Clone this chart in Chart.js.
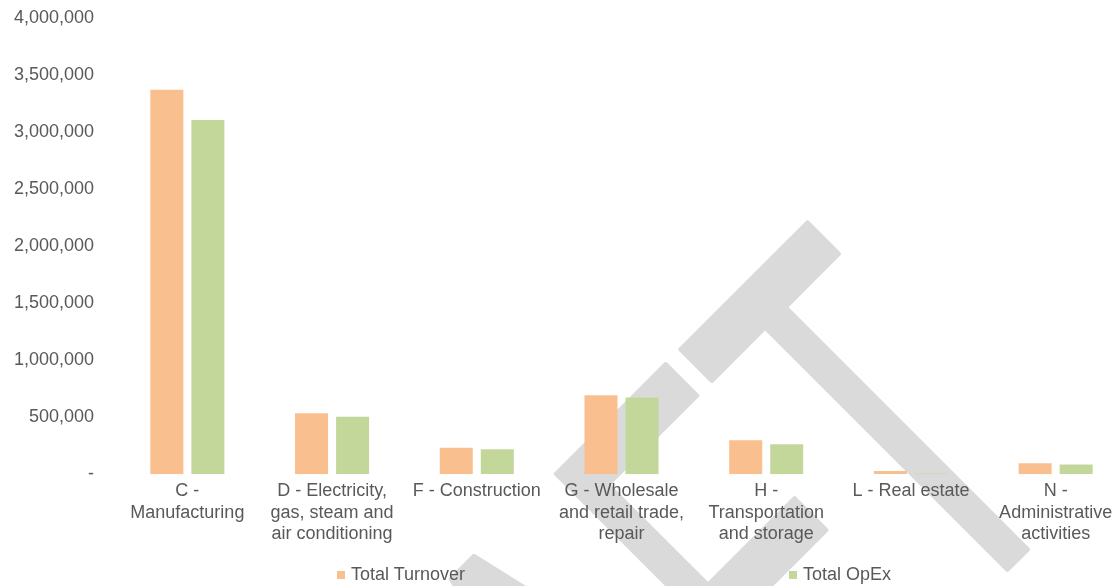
<!DOCTYPE html>
<html>
<head>
<meta charset="utf-8">
<script src="https://cdn.jsdelivr.net/npm/chart.js@4/dist/chart.umd.min.js"></script>
<style>
  body { margin: 0; background: #fff; overflow: hidden; }
  #wrap { position: relative; width: 1128px; height: 586px; }
  #chart { position: absolute; left: 0; top: 0; }
  .legend-item {
    position: absolute;
    top: 563px;
    font: 18px "Liberation Sans", Arial, sans-serif;
    color: #595959;
    line-height: 22px;
    white-space: nowrap;
  }
  .legend-item span {
    display: inline-block;
    width: 8px;
    height: 8px;
    margin-right: 6px;
    vertical-align: 1px;
  }
</style>
</head>
<body>
<div id="wrap">
  <canvas id="chart"></canvas>
  <div class="legend-item" id="legend-turnover" style="left: 337px;"><span></span></div>
  <div class="legend-item" id="legend-opex" style="left: 789px;"><span></span></div>
</div>
<script>
// data
const categories = [
  ["C -", "Manufacturing"],
  ["D - Electricity,", "gas, steam and", "air conditioning"],
  ["F - Construction"],
  ["G - Wholesale", "and retail trade,", "repair"],
  ["H -", "Transportation", "and storage"],
  ["L - Real estate"],
  ["N -", "Administrative", "activities"],
];
const seriesNames = ["Total Turnover", "Total OpEx"];
const turnoverValues = [3370000, 535000, 231000, 693000, 298000, 29000, 96000];
const opexValues = [3105000, 503000, 219000, 673000, 263000, 6000, 85000];
const yTicks = [0, 500000, 1000000, 1500000, 2000000, 2500000, 3000000, 3500000, 4000000];

const turnoverColor = "#F9BF8F";
const opexColor = "#C4D79B";
const textColor = "#595959";
const fontFamily = '"Liberation Sans", Arial, sans-serif';

// setup canvas size (full page height so the watermark runs to the bottom edge)
const canvas = document.querySelector("#chart");
canvas.width = 1128;
canvas.height = 586;
canvas.style.width = "1128px";
canvas.style.height = "586px";

// grey "DRAFT" watermark behind everything
const watermark = {
  id: "watermark",
  beforeDraw: (chart) => {
    const ctx = chart.ctx;
    ctx.save();
    ctx.translate(1086, 490);
    ctx.rotate(-Math.PI / 4);
    ctx.scale(0.57, 1);
    ctx.font = `560px ${fontFamily}`;
    ctx.textAlign = "right";
    ctx.textBaseline = "alphabetic";
    ctx.fillStyle = "#DADADA";
    ctx.strokeStyle = "#DADADA";
    ctx.lineJoin = "round";
    ctx.lineWidth = 6;
    ctx.fillText("DRAFT", 0, 0);
    ctx.strokeText("DRAFT", 0, 0);
    ctx.restore();
  },
};

const chartData = {
  type: "bar",
  data: {
    labels: categories,
    datasets: [
      {
        label: seriesNames[0],
        data: turnoverValues,
        backgroundColor: turnoverColor,
        categoryPercentage: 0.567,
        barPercentage: 0.805,
      },
      {
        label: seriesNames[1],
        data: opexValues,
        backgroundColor: opexColor,
        categoryPercentage: 0.567,
        barPercentage: 0.805,
      },
    ],
  },
  options: {
    responsive: false,
    animation: false,
    layout: {
      padding: { top: 18, left: 0, right: 0, bottom: 35 },
    },
    scales: {
      x: {
        grid: { display: false, drawTicks: false },
        border: { display: false },
        ticks: {
          color: textColor,
          font: { family: fontFamily, size: 18, lineHeight: 1.2 },
          padding: 6,
          maxRotation: 0,
          autoSkip: false,
        },
      },
      y: {
        min: 0,
        max: 4000000,
        afterFit: (scale) => {
          // fixed axis width, and keep the label gap from pushing the plot down
          scale.width = 115;
          scale.paddingTop = 11;
          scale.paddingBottom = 11;
        },
        afterBuildTicks: (scale) => {
          scale.ticks = yTicks.map((v) => ({ value: v }));
        },
        grid: { display: false, drawTicks: false },
        border: { display: false },
        ticks: {
          color: textColor,
          font: { family: fontFamily, size: 18 },
          padding: 21,
          callback: (value) => (value === 0 ? "-" : value.toLocaleString("en-US")),
        },
      },
    },
    plugins: {
      legend: { display: false },
      tooltip: { enabled: false },
    },
  },
  plugins: [watermark],
};

const chart = new Chart(canvas.getContext("2d"), chartData);

// html legend under the chart
const legendTurnover = document.querySelector("#legend-turnover");
const legendOpex = document.querySelector("#legend-opex");
legendTurnover.querySelector("span").style.background = turnoverColor;
legendTurnover.append(seriesNames[0]);
legendOpex.querySelector("span").style.background = opexColor;
legendOpex.append(seriesNames[1]);
</script>
</body>
</html>
